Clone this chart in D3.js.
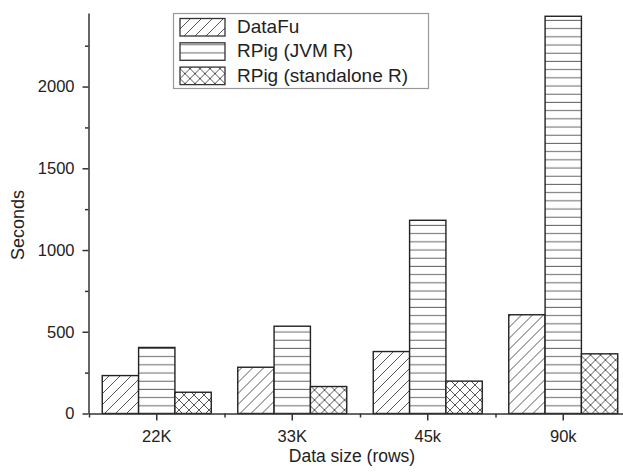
<!DOCTYPE html>
<html>
<head>
<meta charset="utf-8">
<script src="https://cdn.jsdelivr.net/npm/d3@7"></script>
<style>
  body { margin: 0; background: #fff; }
  text { font-family: "Liberation Sans", Arial, sans-serif; fill: #222; }
</style>
</head>
<body>
<svg id="chart" width="623" height="473"></svg>
<script>
// data
const sizes = ["22K", "33K", "45k", "90k"];
const seriesNames = ["DataFu", "RPig (JVM R)", "RPig (standalone R)"];
const dataFu = [232, 283, 379, 604];
const jvmR = [404, 534, 1182, 2430];
const standaloneR = [130, 165, 198, 365];
const yMajor = [0, 500, 1000, 1500, 2000];
const yMinor = [250, 750, 1250, 1750, 2250];

const patternIds = ["diag", "horiz", "cross"];

const rows = sizes.map((s, i) => ({
  size: s,
  vals: [dataFu[i], jvmR[i], standaloneR[i]]
}));

const svg = d3.select("#chart");

const x = d3.scaleBand().domain(sizes).range([89, 631]);
const xIdx = d3.scaleLinear().domain([0, sizes.length]).range([89, 631]);
const xs = d3.scaleBand().domain(d3.range(seriesNames.length))
  .range([13.25, x.bandwidth() - 13.25]);
const y = d3.scaleLinear().domain([0, 2450]).range([413.5, 13]);

// hatch patterns
const defs = svg.append("defs");
const pDiag = defs.append("pattern").attr("id", "diag")
  .attr("patternUnits", "userSpaceOnUse").attr("width", 11).attr("height", 11);
pDiag.append("rect").attr("width", 11).attr("height", 11).attr("fill", "#fff");
pDiag.append("path").attr("d", "M-1,12 L12,-1 M-2,2 L2,-2 M9,13 L13,9")
  .attr("stroke", "#444").attr("stroke-width", 0.9);

const pHoriz = defs.append("pattern").attr("id", "horiz")
  .attr("patternUnits", "userSpaceOnUse").attr("width", 8).attr("height", 8.2);
pHoriz.append("rect").attr("width", 8).attr("height", 8.2).attr("fill", "#fff");
pHoriz.append("line").attr("x1", 0).attr("x2", 8).attr("y1", 4).attr("y2", 4)
  .attr("stroke", "#666").attr("stroke-width", 1);

const pCross = defs.append("pattern").attr("id", "cross")
  .attr("patternUnits", "userSpaceOnUse").attr("width", 10).attr("height", 10);
pCross.append("rect").attr("width", 10).attr("height", 10).attr("fill", "#fff");
pCross.append("path").attr("d", "M-1,11 L11,-1 M-1,-1 L11,11 M-2,2 L2,-2 M8,12 L12,8 M-2,8 L2,12 M8,-2 L12,2")
  .attr("stroke", "#444").attr("stroke-width", 0.9);

// bars
const g = svg.append("g")
  .selectAll("g")
  .data(rows)
  .join("g")
  .attr("transform", d => `translate(${x(d.size)},0)`);

g.selectAll("rect")
  .data(d => d.vals.map((v, k) => ({ k, v })))
  .join("rect")
  .attr("x", d => xs(d.k))
  .attr("width", xs.bandwidth())
  .attr("y", d => y(d.v))
  .attr("height", d => y(0) - y(d.v))
  .attr("fill", d => `url(#${patternIds[d.k]})`)
  .attr("stroke", "#222")
  .attr("stroke-width", 1.4);

// y axis
svg.append("g").attr("transform", "translate(88.5,0)")
  .call(d3.axisLeft(y).tickValues(yMajor).tickFormat(d3.format("d"))
    .tickSize(6).tickSizeOuter(0).tickPadding(8));
svg.append("g").attr("transform", "translate(88.5,0)")
  .call(d3.axisLeft(y).tickValues(yMinor).tickSize(3.5).tickFormat(""))
  .call(a => a.select(".domain").remove());

// x axis
svg.append("g").attr("transform", "translate(0,413.5)")
  .call(d3.axisBottom(x).tickSize(7).tickSizeOuter(0).tickPadding(9.5));
svg.append("g").attr("transform", "translate(0,413.5)")
  .call(d3.axisBottom(xIdx).tickValues(d3.range(sizes.length + 1)).tickSize(4).tickFormat(""))
  .call(a => a.select(".domain").remove());

svg.selectAll(".domain, .tick line").attr("stroke", "#333").attr("stroke-width", 1.5);
svg.selectAll(".tick text").attr("font-size", 16.5).attr("fill", "#222")
  .style("font-family", '"Liberation Sans", Arial, sans-serif');

// axis titles
svg.append("text")
  .attr("x", 352).attr("y", 462)
  .attr("text-anchor", "middle")
  .attr("font-size", 17.5)
  .text("Data size (rows)");

svg.append("text")
  .attr("transform", "translate(24,225) rotate(-90)")
  .attr("text-anchor", "middle")
  .attr("font-size", 18)
  .text("Seconds");

// legend
const legend = svg.append("g");
legend.append("rect")
  .attr("x", 173.5).attr("y", 13.5).attr("width", 255).attr("height", 75)
  .attr("fill", "#fff").attr("stroke", "#999").attr("stroke-width", 1.2);

const li = legend.selectAll("g.item")
  .data(seriesNames)
  .join("g")
  .attr("class", "item")
  .attr("transform", (d, i) => `translate(0,${i * 24.3})`);

li.append("rect")
  .attr("x", 180).attr("y", 18.5).attr("width", 45).attr("height", 17.5)
  .attr("fill", (d, i) => `url(#${patternIds[i]})`)
  .attr("stroke", "#333").attr("stroke-width", 1.3);

li.append("text")
  .attr("x", 237).attr("y", 33)
  .attr("font-size", 19)
  .text(d => d);
</script>
</body>
</html>
